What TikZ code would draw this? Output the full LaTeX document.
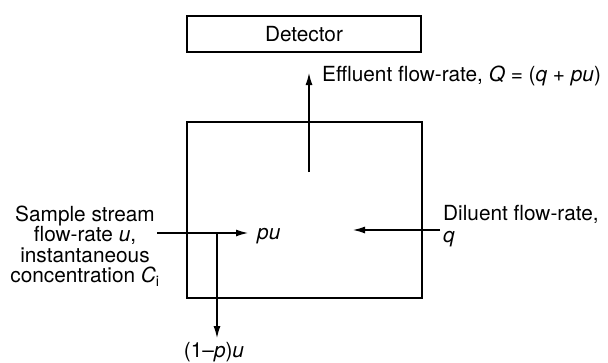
\documentclass[tikz,border=0pt]{standalone}
\usepackage{fontspec}
\setmainfont{TeX Gyre Heros}
\usetikzlibrary{arrows.meta}

\begin{document}
\begin{tikzpicture}[
  flowbox/.style   = {draw, line width=1.6pt, inner sep=0pt},
  flowarrow/.style = {-{Latex[length=12pt,width=7pt]}, line width=1.2pt},
  flowtext/.style  = {inner sep=0pt, font=\fontsize{20.8}{20.5}\selectfont},
  x=1pt, y=-1pt,
]
  \useasboundingbox (0,0) rectangle (608,362);

  \node[flowbox, flowtext, minimum width=234pt, minimum height=36pt] (det) at (304,34) {Detector};
  \node[flowbox, minimum width=235pt, minimum height=176pt] (mix) at (304.5,210) {};

  \coordinate (effin)  at (309,172);
  \coordinate (effout) at (309,73);
  \coordinate (sampin) at (157,233);
  \coordinate (sampin2) at (248,233);
  \coordinate (split)  at (217,233);
  \coordinate (waste)  at (217,338);
  \coordinate (dilin)  at (440,230);
  \coordinate (dilin2) at (353,230);

  \node[flowtext, anchor=base west] (efflbl) at (322,81) {Effluent flow-rate, \textit{Q} = (\textit{q} + \textit{pu})};
  \node[flowtext, anchor=base west] (pulbl) at (257,239) {\textit{pu}};
  \node[flowtext, align=center] (samplbl) at (85,246) {Sample stream\\flow-rate \textit{u},\\instantaneous\\concentration \textit{C}\textsubscript{i}};
  \node[flowtext, anchor=base west] (dillbl) at (443,220) {Diluent flow-rate,};
  \node[flowtext, anchor=base west] (qlbl) at (443,242) {\textit{q}};
  \node[flowtext, anchor=north] (wastelbl) at (214,342) {(1–\textit{p})\textit{u}};

  \draw[flowarrow] (effin) -- (effout);
  \draw[flowarrow] (sampin) -- (sampin2);
  \draw[flowarrow] (split) -- (waste);
  \draw[flowarrow] (dilin) -- (dilin2);
\end{tikzpicture}
\end{document}
